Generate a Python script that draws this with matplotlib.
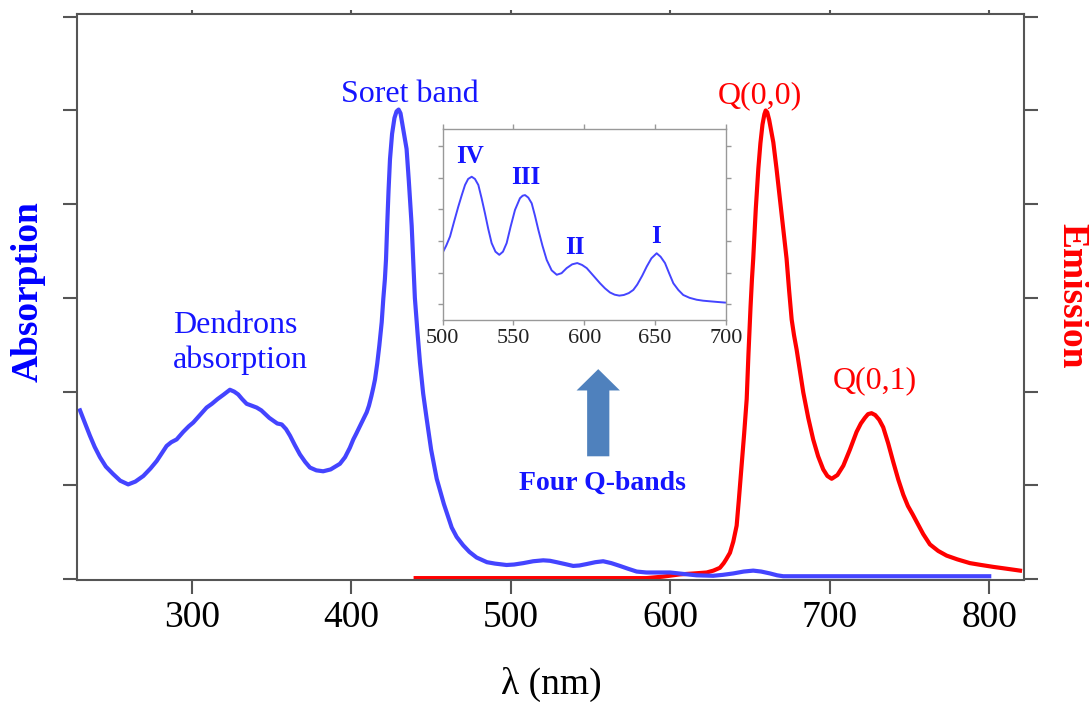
import numpy as np
import matplotlib
matplotlib.use("Agg")
import matplotlib.pyplot as plt
from matplotlib.patches import FancyArrowPatch

plt.rcParams['font.family'] = ['Liberation Serif', 'DejaVu Serif']

# absorption spectrum (nm, arb.)
abs_nm = [229.8, 233, 236, 239, 242.3, 246, 250.6, 255, 260, 264.5,
          269.5, 274, 277.9, 281, 284.1, 287, 290.4, 294.5, 298, 300.8,
          305, 309.2, 312.5, 316, 320, 323.8, 326.5, 329, 331.5, 334.3,
          337.5, 340.6, 343.5, 346, 348.5, 351, 353.5, 356.3, 359, 361.5,
          364.5, 367.7, 371, 374, 378, 382.3, 387, 392.8, 396, 399,
          401.2, 403, 405, 407.3, 409.6, 411, 412.5, 413.7, 414.8, 416.2,
          417.5, 419, 420, 421, 421.7, 422.5, 423.3, 424.2, 425.5, 427,
          428.3, 429.6, 430.8, 432, 433.3, 434.6, 436, 437.8, 439.8, 441.5,
          443, 445, 447.2, 450, 453.5, 458, 462.9, 466, 470.1, 474,
          478.5, 485, 490, 497.3, 502, 507.8, 514, 520.3, 524.5, 528.7,
          534, 539.1, 543, 547.5, 553, 557.9, 563, 568.4, 573.5, 578.9,
          585, 599.8, 608, 616.5, 626.9, 633, 639.5, 646, 652, 657,
          662.5, 667, 670.8, 800]
abs_val = [1.80, 1.66, 1.53, 1.41, 1.30, 1.20, 1.12, 1.05, 1.01, 1.04,
           1.10, 1.18, 1.26, 1.34, 1.42, 1.46, 1.49, 1.57, 1.63, 1.67,
           1.75, 1.83, 1.87, 1.92, 1.97, 2.02, 2.00, 1.97, 1.92, 1.87,
           1.85, 1.83, 1.80, 1.76, 1.72, 1.69, 1.66, 1.65, 1.60, 1.53,
           1.43, 1.33, 1.25, 1.19, 1.16, 1.15, 1.17, 1.23, 1.30, 1.40,
           1.49, 1.55, 1.62, 1.70, 1.78, 1.85, 1.95, 2.04, 2.13, 2.30,
           2.49, 2.74, 2.99, 3.20, 3.41, 3.80, 4.15, 4.48, 4.75, 4.92,
           4.99, 5.01, 4.97, 4.85, 4.72, 4.59, 4.25, 3.77, 3.00, 2.62,
           2.31, 1.98, 1.71, 1.38, 1.07, 0.80, 0.55, 0.45, 0.36, 0.29,
           0.23, 0.18, 0.165, 0.15, 0.155, 0.17, 0.19, 0.20, 0.195, 0.18,
           0.16, 0.14, 0.145, 0.16, 0.18, 0.19, 0.17, 0.14, 0.11, 0.08,
           0.07, 0.07, 0.055, 0.04, 0.035, 0.045, 0.06, 0.08, 0.09, 0.08,
           0.06, 0.04, 0.03, 0.03]

# emission spectrum
em_nm = [440.3, 585, 595, 606, 615, 622.8, 627, 631.1, 633.5, 635,
         637.4, 639.5, 641.6, 643, 644.7, 646.3, 647.9, 649, 650.3, 651.2,
         652, 653.6, 655.2, 656.5, 657.8, 659, 659.8, 660.8, 662, 663.3,
         664.6, 666.6, 668.7, 670.8, 672.9, 674.5, 676.1, 677.6, 679.2, 681.3,
         683.4, 686.5, 689.6, 692.7, 695.9, 698.5, 701.2, 704.8, 708.5, 712.6,
         716.8, 719.5, 722, 724, 726.2, 728.5, 731, 733.5, 736.6, 739.8,
         743, 746.1, 749, 752, 754.5, 758.6, 762.8, 768, 773.3, 780,
         787.9, 795, 802.5, 811, 819.3]
em_val = [0.01, 0.01, 0.025, 0.05, 0.06, 0.07, 0.09, 0.12, 0.17, 0.21,
          0.28, 0.40, 0.57, 0.85, 1.21, 1.55, 1.92, 2.40, 2.90, 3.20,
          3.42, 3.95, 4.38, 4.65, 4.85, 4.96, 5.00, 4.98, 4.90, 4.78,
          4.66, 4.38, 4.06, 3.74, 3.42, 3.08, 2.77, 2.60, 2.45, 2.22,
          1.99, 1.72, 1.49, 1.31, 1.17, 1.10, 1.07, 1.11, 1.21, 1.38,
          1.57, 1.66, 1.72, 1.76, 1.77, 1.75, 1.70, 1.62, 1.45, 1.25,
          1.06, 0.90, 0.78, 0.69, 0.61, 0.48, 0.37, 0.30, 0.25, 0.21,
          0.17, 0.15, 0.13, 0.11, 0.09]

# inset: Q-band region
q_nm = [500, 502.5, 505.2, 508, 511, 513.5, 515.8, 518, 520.5, 522.8,
        525.2, 527.5, 529.9, 532.2, 534.6, 537.3, 540, 542.6, 545.2, 548,
        551.1, 554.6, 556.5, 558.2, 560.5, 562.9, 565.2, 567.6, 570.5, 573.5,
        577, 580.6, 584, 587.6, 591.5, 595.1, 598.5, 601.8, 606.5, 611.2,
        614.7, 618.2, 621.5, 624.8, 628, 631.5, 634.7, 637.5, 641, 644.2,
        647.5, 651.2, 654, 657.1, 660, 663, 666.5, 670, 674.5, 679.5,
        684, 688.9, 694, 699.5]
q_val = [1.63, 1.85, 2.14, 2.60, 3.08, 3.45, 3.77, 3.96, 4.03, 3.96,
         3.77, 3.35, 2.87, 2.38, 1.93, 1.66, 1.56, 1.66, 1.93, 2.45,
         2.98, 3.35, 3.43, 3.45, 3.37, 3.19, 2.80, 2.35, 1.85, 1.40,
         1.07, 0.93, 0.98, 1.14, 1.26, 1.30, 1.24, 1.14, 0.90, 0.66,
         0.50, 0.37, 0.30, 0.27, 0.29, 0.35, 0.45, 0.62, 0.90, 1.19,
         1.45, 1.61, 1.50, 1.30, 0.98, 0.66, 0.45, 0.29, 0.20, 0.14,
         0.11, 0.09, 0.07, 0.05]

band_names = ['IV', 'III', 'II', 'I']
band_pos = [(519.5, 4.45), (558.5, 3.8), (593.5, 1.6), (651, 1.92)]

blue = '#4444ff'
txt_blue = '#1515ff'
red = '#ff0000'
frame = '#555555'

fig = plt.figure(figsize=(10.89, 7.02), dpi=100)
ax = fig.add_axes([0.0704, 0.1738, 0.8699, 0.8063])

ax.plot(em_nm, em_val, color=red, lw=3, solid_joinstyle='round')
ax.plot(abs_nm, abs_val, color=blue, lw=3, solid_joinstyle='round')

ax.set_xlim(227.7, 821.8)
ax.set_ylim(-0.01, 6.03)
ax.set_xticks([300, 400, 500, 600, 700, 800])
ax.set_yticks(range(7))
ax.set_yticklabels([])
for s in ax.spines.values():
    s.set_color(frame)
    s.set_linewidth(1.5)
ax.tick_params(axis='both', direction='out', color=frame, width=1.5, length=10,
               labelsize=27, pad=5)
ax.tick_params(axis='y', right=True)
ax.tick_params(axis='x', top=True)
for t in ax.xaxis.get_major_ticks():
    t.tick2line.set_markersize(3)

# annotations
ax.text(436.7, 5.09, 'Soret band', color=txt_blue, fontsize=23, ha='center', va='baseline')
ax.text(288.1, 2.63, 'Dendrons', color=txt_blue, fontsize=23, ha='left', va='baseline')
ax.text(288.1, 2.25, 'absorption', color=txt_blue, fontsize=23, ha='left', va='baseline')
ax.text(656.2, 5.08, 'Q(0,0)', color=red, fontsize=23, ha='center', va='baseline')
ax.text(728.3, 2.04, 'Q(0,1)', color=red, fontsize=23, ha='center', va='baseline')
ax.text(557.7, 0.95, 'Four Q-bands', color=txt_blue, fontsize=20, fontweight='bold',
        ha='center', va='baseline')

arr = FancyArrowPatch((554.8, 1.31), (554.8, 2.24),
                      arrowstyle='simple,head_length=0.96,head_width=1.95,tail_width=1.0',
                      mutation_scale=16, color='#4f81bd', shrinkA=0, shrinkB=0, lw=0)
ax.add_patch(arr)

fig.text(0.026, 0.584, 'Absorption', color='#0000ff', fontsize=27, fontweight='bold',
         rotation=90, ha='center', va='center')
fig.text(0.984, 0.578, 'Emission', color=red, fontsize=27, fontweight='bold',
         rotation=270, ha='center', va='center')
fig.text(551 / 1089, 1 - 684 / 702, 'λ (nm)', fontsize=27, ha='center', va='center')

# inset with the Q-bands
ins = fig.add_axes([0.4065, 0.5442, 0.2599, 0.2716])
ins.plot(q_nm, q_val, color=blue, lw=1.4, solid_joinstyle='round')
ins.set_xlim(500, 700)
ins.set_ylim(-0.5, 5.53)
ins.set_xticks([500, 550, 600, 650, 700])
ins.set_yticks(range(6))
ins.set_yticklabels([])
for s in ins.spines.values():
    s.set_color('#999999')
    s.set_linewidth(1)
ins.tick_params(axis='both', direction='out', color='#999999', width=1, length=3.5,
                labelsize=16, labelcolor='#222222', pad=3, right=True, top=True)
for name, (xp, yp) in zip(band_names, band_pos):
    ins.text(xp, yp, name, color=txt_blue, fontsize=18, fontweight='bold',
             ha='center', va='baseline')

fig.savefig('out.png', dpi=100)
